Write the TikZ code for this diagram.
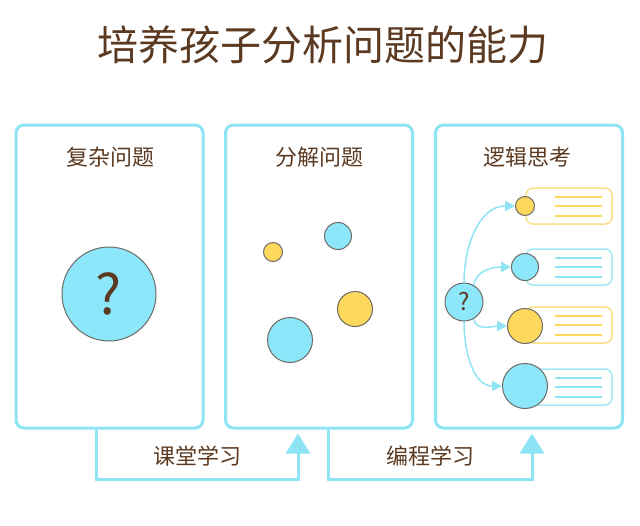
\documentclass[tikz,border=0pt]{standalone}
\usepackage{fontspec}
\newfontfamily\cjk{Noto Sans CJK SC}
\usetikzlibrary{arrows.meta}
\definecolor{skyline}{HTML}{8EE3F4}
\definecolor{skyfill}{HTML}{8CE7FA}
\definecolor{sunny}{HTML}{FDD85D}
\definecolor{sunline}{HTML}{F9DF86}
\definecolor{skycard}{HTML}{A6E8F6}
\definecolor{rim}{HTML}{6E6A66}
\definecolor{ink}{HTML}{5B3A21}

\begin{document}
\begin{tikzpicture}[x=1pt, y=1pt,
  panel/.style={draw=skyline, line width=3pt, rounded corners=8pt,
                minimum width=187pt, minimum height=303pt},
  head/.style={text=ink, font=\cjk\fontsize{22}{24}\selectfont},
  dot/.style={circle, fill=#1, draw=rim, line width=1pt, inner sep=0pt},
  card/.style={draw=#1, line width=1.5pt, rounded corners=7pt,
               minimum width=86pt, minimum height=36pt, fill=white},
  link/.style={draw=skyline, line width=3pt,
               -{Triangle[length=20pt, width=24pt]}, shorten >=4pt},
  branch/.style={draw=skyline, line width=1.5pt,
                 -{Triangle[length=10pt, width=10pt]}}]

% Background
\useasboundingbox (0,0) rectangle (640,-525);
\fill[white] (0,0) rectangle (640,-525);

% Title
\node[text=ink, font=\cjk\fontsize{41}{44}\selectfont] (title) at (323,-45) {培养孩子分析问题的能力};

% Panels
\node[panel] (p1) at (109.5,-276.5) {};
\node[panel] (p2) at (319,-276.5) {};
\node[panel] (p3) at (529,-276.5) {};

\node[head] (h1) at (110,-157) {复杂问题};
\node[head] (h2) at (319,-157) {分解问题};
\node[head] (h3) at (527,-157) {逻辑思考};

% Complex problem
\node[dot=skyfill, minimum size=94pt, text=ink,
      font=\fontsize{55}{60}\selectfont\cjk] (big) at (109,-294) {?};

% Split problem
\node[dot=sunny, minimum size=19pt] (s1) at (273,-252) {};
\node[dot=skyfill, minimum size=27pt] (s2) at (338,-236) {};
\node[dot=sunny, minimum size=35pt] (s3) at (355,-309) {};
\node[dot=skyfill, minimum size=45pt] (s4) at (290,-340) {};

% Logical thinking
\node[card=sunline] (k1) at (569,-206) {};
\node[card=skycard] (k2) at (569,-267) {};
\node[card=sunline] (k3) at (569,-325) {};
\node[card=skycard] (k4) at (569,-387) {};
\foreach \y/\c in {-206/sunny, -267/skyline, -325/sunny, -387/skyline}
  \foreach \d in {-9.5, 0, 9.5}
    \draw[\c, line width=2pt] (555,\y+\d) -- (602,\y+\d);

\node[dot=sunny, minimum size=19pt] (c1) at (525,-206) {};
\node[dot=skyfill, minimum size=27pt] (c2) at (525,-267) {};
\node[dot=sunny, minimum size=35pt] (c3) at (525,-326) {};
\node[dot=skyfill, minimum size=45pt] (c4) at (525,-386) {};

\node[dot=skyfill, minimum size=38pt, text=ink,
      font=\fontsize{24}{26}\selectfont\cjk] (q) at (464,-302) {?};

\draw[branch] (q.north) to[out=90, in=180] (c1.west);
\draw[branch] (q.60) to[out=80, in=180] (c2.west);
\draw[branch] (q.-60) to[out=-80, in=180] (c3.west);
\draw[branch] (q.south) to[out=-90, in=180] (c4.west);

% Learning steps
\draw[link] ([xshift=-13.5pt]p1.south) -- ++(0,-50) -| ([xshift=-21pt]p2.south);
\draw[link] ([xshift=9pt]p2.south) -- ++(0,-50) -| ([xshift=3pt]p3.south);
\node[head] (l1) at (197,-456) {课堂学习};
\node[head] (l2) at (430,-456) {编程学习};

\end{tikzpicture}
\end{document}
